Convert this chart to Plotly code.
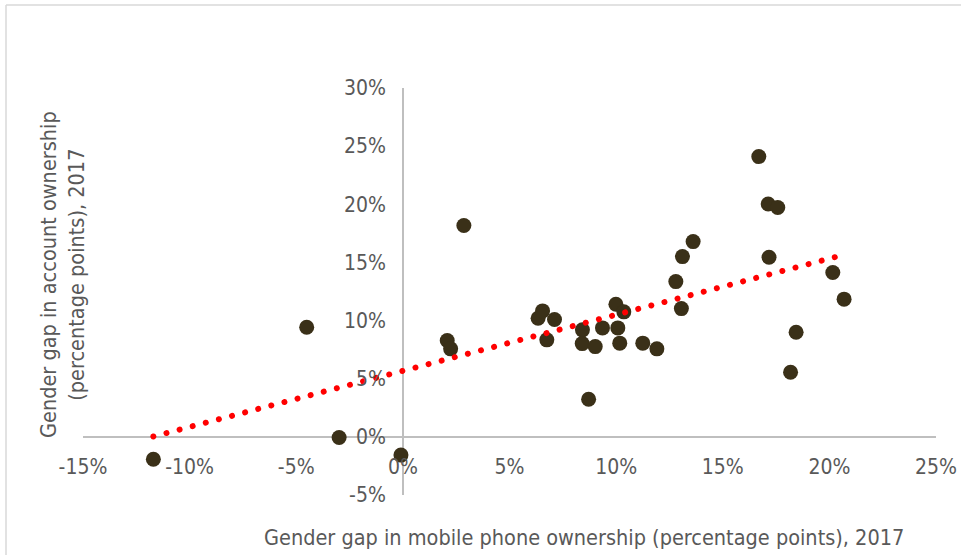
import plotly.graph_objects as go

# Gender gap in mobile phone ownership (percentage points), 2017
mobile_gap = [-11.70, -4.51, -2.99, -0.09, 2.08, 2.24, 2.86,
              6.34, 6.55, 6.75, 7.11, 8.42, 8.41, 9.02, 9.36,
              9.99, 10.08, 10.36, 10.17, 11.25, 11.91, 8.71,
              12.80, 13.11, 13.61, 13.06,
              16.69, 17.13, 17.58, 17.17, 20.16, 20.69, 18.44, 18.18]
# Gender gap in account ownership (percentage points), 2017
account_gap = [-1.92, 9.43, -0.06, -1.57, 8.28, 7.57, 18.17,
               10.20, 10.83, 8.34, 10.09, 9.20, 8.02, 7.76, 9.37,
               11.41, 9.37, 10.75, 8.06, 8.06, 7.57, 3.24,
               13.35, 15.50, 16.79, 11.03,
               24.10, 20.03, 19.72, 15.45, 14.13, 11.84, 9.00, 5.56]

# Linear trendline endpoints
trend_x = [-11.70, 20.36]
trend_y = [0.03, 15.50]

x_ticks = [-15, -10, -5, 0, 5, 10, 15, 20, 25]
x_tick_labels = ["-15%", "-10%", "-5%", "0%", "5%", "10%", "15%", "20%", "25%"]
y_ticks = [-5, 0, 5, 10, 15, 20, 25, 30]
y_tick_labels = ["-5%", "0%", "5%", "10%", "15%", "20%", "25%", "30%"]

x_title = "Gender gap in mobile phone ownership (percentage points), 2017"
y_title = "Gender gap in account ownership<br>(percentage points), 2017"

FONT = "Liberation Sans Narrow, Arial Narrow, DejaVu Sans Condensed, sans-serif"
GRAY = "#595959"

fig = go.Figure()
fig.add_trace(go.Scatter(
    x=mobile_gap, y=account_gap, mode="markers",
    marker=dict(size=15, color="#3A3018", line=dict(width=0)),
    showlegend=False, hoverinfo="x+y"))
fig.add_trace(go.Scatter(
    x=trend_x, y=trend_y, mode="lines",
    line=dict(color="#FF0000", width=6, dash="6px,7.5px"),
    showlegend=False, hoverinfo="skip"))

L, R, T, B = 83, 936, 88, 495
W, H = 962, 556
ph = B - T
pw = R - L


def px(x):
    return (x - L) / pw


def py(y):
    return (B - y) / ph


border = dict(color="#D9D9D9", width=1.5)

fig.update_layout(
    width=W, height=H,
    margin=dict(l=L, r=W - R, t=T, b=H - B, autoexpand=False),
    paper_bgcolor="white", plot_bgcolor="white",
    font=dict(family=FONT, size=21, color=GRAY),
    xaxis=dict(range=[-15, 25], tickvals=x_ticks, ticktext=x_tick_labels,
               showgrid=False, zeroline=True, zerolinecolor="#BFBFBF",
               zerolinewidth=1.5, showline=False, ticks="", automargin=False,
               anchor="free", position=0.105,
               tickfont=dict(family=FONT, size=21, color=GRAY)),
    yaxis=dict(range=[-5, 30], tickvals=y_ticks, ticktext=y_tick_labels,
               showgrid=False, zeroline=True, zerolinecolor="#BFBFBF",
               zerolinewidth=1.5, showline=False, ticks="", automargin=False,
               anchor="free", position=15 / 40, ticklabelstandoff=17,
               tickfont=dict(family=FONT, size=21, color=GRAY)),
    annotations=[
        dict(text=x_title, xref="paper", yref="paper",
             x=px(584), y=py(537), xanchor="center", yanchor="middle",
             showarrow=False, font=dict(family=FONT, size=21.5, color=GRAY)),
        dict(text=y_title, xref="paper", yref="paper",
             x=px(62), y=py(275), xanchor="center", yanchor="middle",
             textangle=-90, showarrow=False,
             font=dict(family=FONT, size=21.5, color=GRAY)),
    ],
    shapes=[
        dict(type="line", xref="paper", yref="paper",
             x0=px(6), x1=px(961), y0=py(5), y1=py(5), line=border, layer="below"),
        dict(type="line", xref="paper", yref="paper",
             x0=px(6), x1=px(6), y0=py(5), y1=py(555), line=border, layer="below"),
    ],
)

post = (
    "document.body.style.margin='0';document.body.style.overflow='hidden';"
    "var ls=document.querySelectorAll('.scatterlayer .trace');"
    "if(ls.length>1){var p=ls[1].querySelector('.js-line');"
    "if(p){p.style.strokeLinecap='round';p.style.strokeDasharray='0.01px,13.54px';}}"
)
fig.write_html("out.html", config={"displayModeBar": False}, post_script=post)
